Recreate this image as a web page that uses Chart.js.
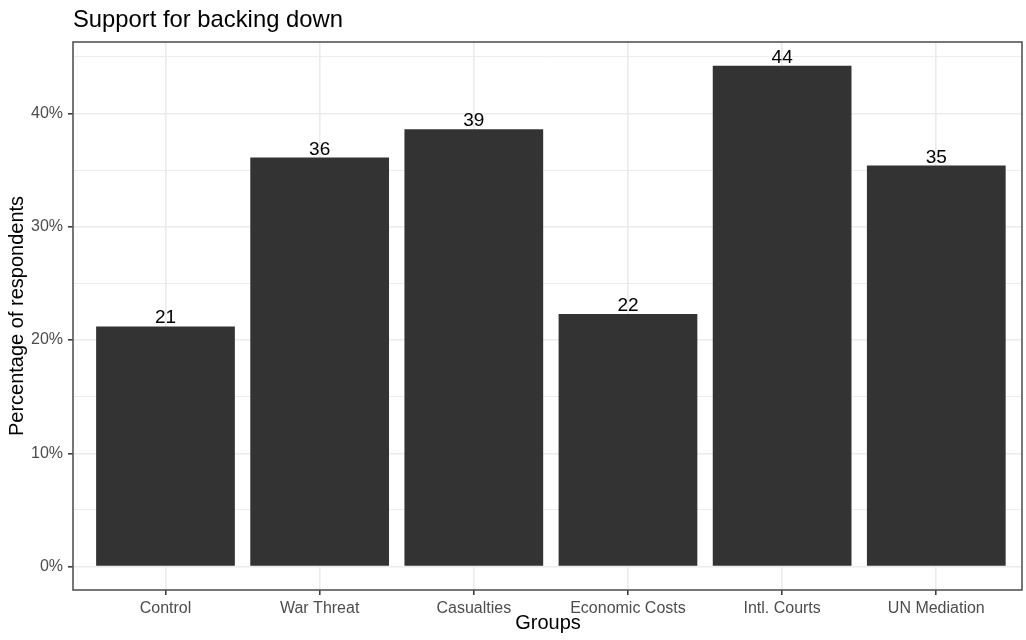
<!DOCTYPE html>
<html>
<head>
<meta charset="utf-8">
<script src="https://cdn.jsdelivr.net/npm/chart.js@4.4.1/dist/chart.umd.min.js"></script>
<style>
  html, body { margin: 0; padding: 0; background: #ffffff; }
  #wrap { width: 1026px; height: 640px; position: relative; }
</style>
</head>
<body>
<div id="wrap"><canvas id="c" width="1026" height="640"></canvas></div>
<script>
// ---- data ----
const categories = ["Control", "War Threat", "Casualties", "Economic Costs", "Intl. Courts", "UN Mediation"];
const values = [21.2, 36.1, 38.6, 22.3, 44.2, 35.4];
const yTickValues = [0, 5, 10, 15, 20, 25, 30, 35, 40, 45];
const titleText = "Support for backing down";
const xTitleText = "Groups";
const yTitleText = "Percentage of respondents";

const FONT = "'Liberation Sans', Arial, Helvetica, sans-serif";

const overlay = {
  id: 'overlay',
  afterDatasetsDraw(chart) {
    const ctx = chart.ctx;
    const meta = chart.getDatasetMeta(0);
    ctx.save();
    ctx.fillStyle = '#000000';
    ctx.font = '19px ' + FONT;
    ctx.textAlign = 'center';
    ctx.textBaseline = 'alphabetic';
    meta.data.forEach((el, i) => {
      ctx.fillText(String(Math.round(values[i])), el.x, el.y - 3);
    });
    ctx.restore();
  },
  afterDraw(chart) {
    const ctx = chart.ctx;
    const a = chart.chartArea;
    ctx.save();
    // panel border
    ctx.strokeStyle = '#555555';
    ctx.lineWidth = 1.6;
    ctx.strokeRect(a.left, a.top, a.right - a.left, a.bottom - a.top);
    // title
    ctx.fillStyle = '#000000';
    ctx.font = '23.8px ' + FONT;
    ctx.textAlign = 'left';
    ctx.textBaseline = 'alphabetic';
    ctx.fillText(titleText, a.left, 26.5);
    // x title
    ctx.font = '20px ' + FONT;
    ctx.textAlign = 'center';
    ctx.fillText(xTitleText, 548, 629);
    // y title
    ctx.translate(23, (a.top + a.bottom) / 2);
    ctx.rotate(-Math.PI / 2);
    ctx.fillText(yTitleText, 0, 0);
    ctx.restore();
  }
};

new Chart(document.getElementById('c'), {
  type: 'bar',
  data: {
    datasets: [{
      data: values.map((v, i) => ({ x: i + 1, y: v })),
      backgroundColor: '#333333',
      borderWidth: 0,
      barPercentage: 0.9,
      categoryPercentage: 1.0
    }]
  },
  options: {
    responsive: false,
    animation: false,
    devicePixelRatio: 1,
    layout: { padding: { left: 0, right: 4, top: 42, bottom: 0 } },
    plugins: { legend: { display: false }, tooltip: { enabled: false }, title: { display: false } },
    scales: {
      x: {
        type: 'linear',
        min: 0.4,
        max: 6.556,
        offset: false,
        afterBuildTicks(scale) { scale.ticks = categories.map((c, i) => ({ value: i + 1 })); },
        afterFit(scale) { scale.height = 50; },
        grid: {
          offset: false,
          color: '#EBEBEB',
          lineWidth: 1.6,
          drawTicks: true,
          tickLength: 5,
          tickColor: '#333333',
          tickWidth: 1.5
        },
        border: { display: false },
        ticks: {
          autoSkip: false,
          maxRotation: 0,
          padding: 4,
          color: '#4D4D4D',
          font: { family: FONT, size: 16 },
          callback: (v) => categories[Math.round(v) - 1] || ''
        }
      },
      y: {
        type: 'linear',
        min: -2.06,
        max: 46.3,
        afterBuildTicks(scale) { scale.ticks = yTickValues.map(v => ({ value: v })); },
        afterFit(scale) { scale.width = 73; },
        grid: {
          color: '#EBEBEB',
          lineWidth: (c) => (c.tick && c.tick.value % 10 === 0) ? 1.6 : 0.9,
          drawTicks: true,
          tickLength: 5,
          tickColor: (c) => (c.tick && c.tick.value % 10 === 0) ? '#333333' : 'rgba(0,0,0,0)',
          tickWidth: 1.5
        },
        border: { display: false },
        ticks: {
          autoSkip: false,
          padding: 5,
          color: '#4D4D4D',
          font: { family: FONT, size: 16 },
          callback: (v) => (v % 10 === 0) ? v + '%' : ''
        }
      }
    }
  },
  plugins: [overlay]
});
</script>
</body>
</html>
